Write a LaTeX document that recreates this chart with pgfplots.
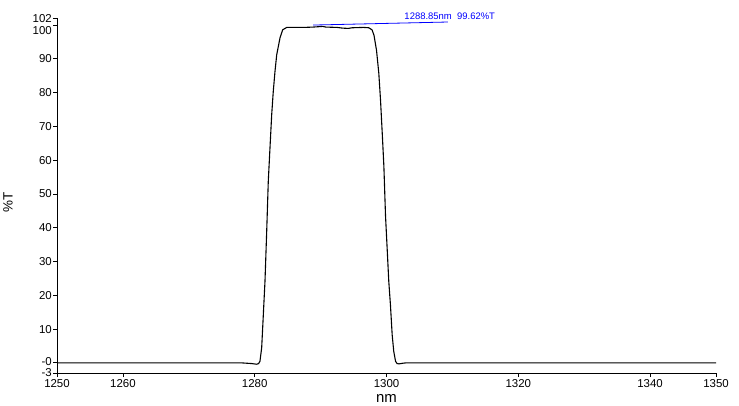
\documentclass[border=0pt]{standalone}
\usepackage{fontspec}
\setmainfont{Liberation Sans}
\usepackage{pgfplots}
\pgfplotsset{compat=1.18}
\pgfplotstableread{
x y
1250 0
1265 0
1278 0
1279.5 -0.2
1280.3 -0.4
1280.6 -0.2
1280.80 0.5
1281.06 4.5
1281.31 14.3
1281.56 24.1
1281.82 38.9
1282.06 53.7
1282.32 63.7
1282.58 73.5
1282.82 80.4
1283.08 86.3
1283.34 91.2
1283.84 96.2
1284.25 98.6
1284.86 99.3
1286 99.3
1287.5 99.3
1288.85 99.4
1289.6 99.5
1290.3 99.6
1290.8 99.4
1292.5 99.3
1293.3 99.1
1294.2 99.0
1294.8 99.2
1296.5 99.3
1297.3 99.2
1297.8 98.6
1298.1 97.0
1298.48 92.6
1298.83 85.8
1299.09 77.9
1299.35 68.1
1299.6 58.3
1299.85 43.6
1300.1 33.8
1300.35 24.0
1300.6 17.1
1300.86 8.3
1301.1 3.4
1301.37 0.5
1301.6 -0.2
1301.9 -0.3
1302.5 -0.1
1303 0
1320 0
1350 0
}\spectrum
\begin{document}
\begin{tikzpicture}
\useasboundingbox (-57bp,-33bp) rectangle (682bp,373bp);
\begin{axis}[
  at={(0,0)}, anchor=south west,
  width=659bp, height=354.7bp, scale only axis,
  xmin=1250, xmax=1350, ymin=-3, ymax=102,
  axis lines*=left,
  axis line style={line width=0.8bp, black},
  tick align=outside,
  major tick length=4bp,
  tick style={line width=0.8bp, black},
  xtick={1250,1260,1280,1300,1320,1340,1350},
  xticklabels={1250,1260,1280,1300,1320,1340,1350},
  ytick={-3,0,10,20,30,40,50,60,70,80,90,100,102},
  yticklabels={-3,\raisebox{1.5bp}[\height][\depth]{-0},10,20,30,40,50,60,70,80,90,\raisebox{-5.5bp}[\height][\depth]{100},102},
  tick label style={font=\fontsize{11.5}{11.5}\selectfont},
  xticklabel style={inner sep=1bp, yshift=-1.5bp},
  yticklabel style={inner sep=1bp},
  xlabel={nm},
  ylabel={\%T},
  xlabel style={font=\fontsize{15}{15}\selectfont, at={(axis description cs:0.5,0)}, anchor=center, yshift=-25.7bp},
  ylabel style={font=\fontsize{13.5}{13.5}\selectfont, at={(axis description cs:-0.0744,0.4815)}, anchor=center},
  clip=false,
]
\addplot[black, line width=1.1bp] table[x=x,y=y] {\spectrum};
\draw[blue, line width=0.8bp] (axis cs:1288.85,100.0) -- (axis cs:1309.3,100.9);
\node[blue, font=\fontsize{9.5}{9.5}\selectfont, anchor=west, inner sep=0pt] at (axis cs:1302.7,102.5) {1288.85nm\ \ 99.62\%T};
\end{axis}
\end{tikzpicture}
\end{document}
